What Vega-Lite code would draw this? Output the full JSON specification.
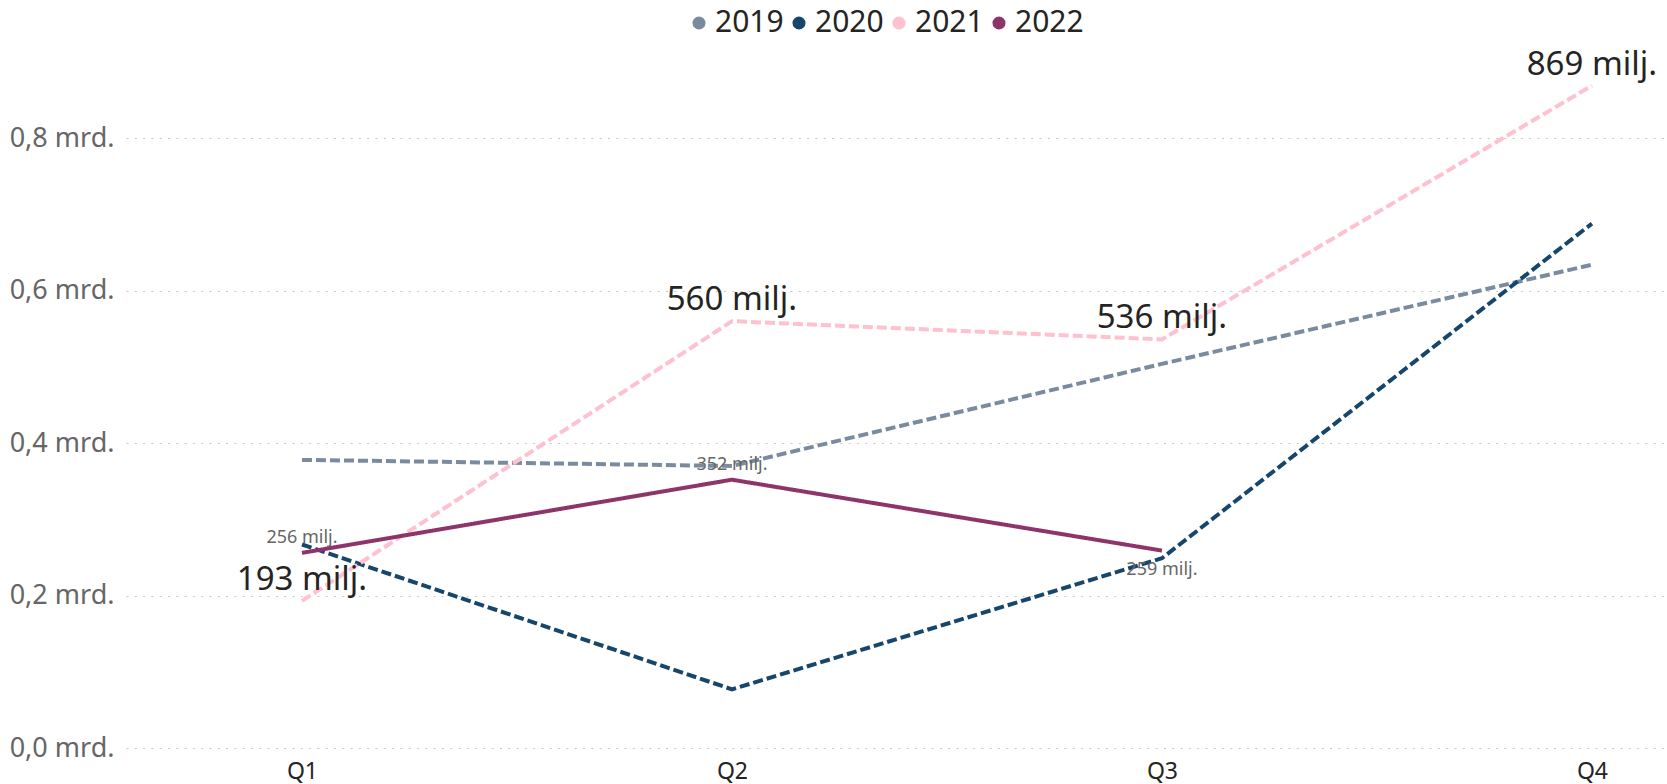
{
  "$schema": "https://vega.github.io/schema/vega-lite/v6.json",
  "autosize": "none",
  "width": 1541,
  "height": 686,
  "padding": {"left": 126, "top": 62, "right": 0, "bottom": 36},
  "background": "white",
  "config": {
    "font": "Noto Sans",
    "view": {"stroke": null}
  },
  "data": {
    "values": [
      {"quarter": "Q1", "year": "2019", "value": 378},
      {"quarter": "Q2", "year": "2019", "value": 370},
      {"quarter": "Q3", "year": "2019", "value": 504},
      {"quarter": "Q4", "year": "2019", "value": 634},
      {"quarter": "Q1", "year": "2020", "value": 267},
      {"quarter": "Q2", "year": "2020", "value": 77},
      {"quarter": "Q3", "year": "2020", "value": 249},
      {"quarter": "Q4", "year": "2020", "value": 688},
      {"quarter": "Q1", "year": "2021", "value": 193},
      {"quarter": "Q2", "year": "2021", "value": 560},
      {"quarter": "Q3", "year": "2021", "value": 536},
      {"quarter": "Q4", "year": "2021", "value": 869},
      {"quarter": "Q1", "year": "2022", "value": 256},
      {"quarter": "Q2", "year": "2022", "value": 352},
      {"quarter": "Q3", "year": "2022", "value": 259}
    ]
  },
  "transform": [
    {"calculate": "format(datum.value, '.0f') + ' milj.'", "as": "label"}
  ],
  "encoding": {
    "x": {
      "field": "quarter",
      "type": "ordinal",
      "scale": {"type": "point", "padding": 0.2919, "align": 0.701},
      "axis": {
        "title": null,
        "domain": false,
        "ticks": false,
        "grid": false,
        "labelAngle": 0,
        "labelFontSize": 23,
        "labelColor": "#252423",
        "labelPadding": 12,
        "labelFont": "Noto Sans"
      }
    },
    "y": {
      "field": "value",
      "type": "quantitative",
      "scale": {"domain": [0, 900], "nice": false, "zero": true},
      "axis": {
        "title": null,
        "domain": false,
        "ticks": false,
        "values": [0, 200, 400, 600, 800],
        "labelExpr": "replace(format(datum.value / 1000, '.1f'), '.', ',') + ' mrd.'",
        "labelFontSize": 27,
        "labelColor": "#666666",
        "labelPadding": 12,
        "labelFont": "Noto Sans",
        "grid": true,
        "gridColor": "#c8c8c8",
        "gridDash": [2, 6.3],
        "gridWidth": 1
      }
    }
  },
  "layer": [
    {
      "mark": {"type": "line", "strokeWidth": 4, "strokeCap": "butt"},
      "encoding": {
        "color": {
          "field": "year",
          "type": "nominal",
          "scale": {
            "domain": ["2019", "2020", "2021", "2022"],
            "range": ["#7A8B9F", "#16466B", "#FFC0CF", "#8D3468"]
          },
          "legend": {
            "title": null,
            "orient": "none",
            "direction": "horizontal",
            "legendX": 558,
            "legendY": -54,
            "symbolType": "circle",
            "symbolSize": 170,
            "symbolStrokeWidth": 0,
            "symbolOpacity": 1,
            "labelFontSize": 30,
            "labelColor": "#252423",
            "labelFont": "Noto Sans",
            "labelOffset": 1,
            "columnPadding": -9,
            "encode": {
              "symbols": {
                "update": {
                  "fill": {"scale": "color", "field": "value"},
                  "fillOpacity": {"value": 1},
                  "strokeDash": {"value": [1, 0]},
                  "strokeWidth": {"value": 0}
                }
              }
            }
          }
        },
        "strokeDash": {
          "field": "year",
          "type": "nominal",
          "scale": {
            "domain": ["2019", "2020", "2021", "2022"],
            "range": [[10, 4], [10, 4], [10, 4], [1, 0]]
          },
          "legend": null
        }
      }
    },
    {
      "transform": [{"filter": "datum.year == '2021'"}],
      "mark": {"type": "text", "fontSize": 33, "color": "#252423", "align": "center", "baseline": "alphabetic", "dy": -11, "font": "Noto Sans"},
      "encoding": {"text": {"field": "label"}}
    },
    {
      "transform": [{"filter": "datum.year == '2022' && datum.quarter != 'Q3'"}],
      "mark": {"type": "text", "fontSize": 18, "color": "#666666", "align": "center", "baseline": "alphabetic", "dy": -10, "font": "Noto Sans"},
      "encoding": {"text": {"field": "label"}}
    },
    {
      "transform": [{"filter": "datum.year == '2022' && datum.quarter == 'Q3'"}],
      "mark": {"type": "text", "fontSize": 18, "color": "#666666", "align": "center", "baseline": "alphabetic", "dy": 24, "font": "Noto Sans"},
      "encoding": {"text": {"field": "label"}}
    }
  ]
}
